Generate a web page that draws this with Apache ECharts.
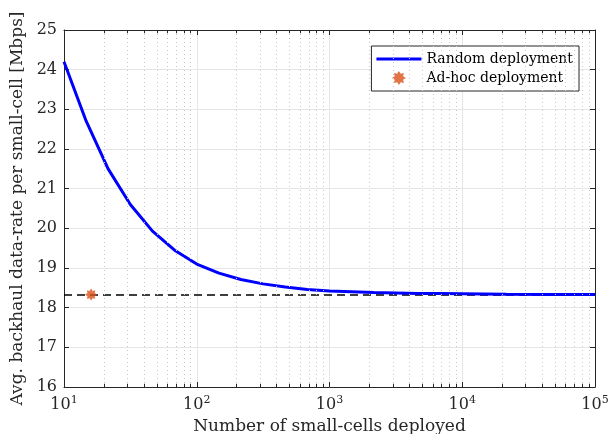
<!DOCTYPE html>
<html>
<head>
<meta charset="utf-8">
<script src="https://cdn.jsdelivr.net/npm/echarts@6/dist/echarts.min.js"></script>
<style>
  html, body { margin: 0; padding: 0; background: #fff; }
  #main { width: 613px; height: 434px; }
</style>
</head>
<body>
<div id="main"></div>
<script>
// data
var cellCounts = [10, 14.7, 21.5, 31.6, 46.4, 68.1, 100, 147, 215, 316, 464, 681, 1000,
                  1468, 2154, 3162, 4642, 6813, 10000, 21544, 46416, 100000];
var randomRate = [24.2, 22.7, 21.5, 20.6, 19.93, 19.45, 19.1, 18.87, 18.71, 18.6, 18.52, 18.46, 18.42,
                  18.4, 18.38, 18.37, 18.36, 18.355, 18.35, 18.34, 18.335, 18.33];
var adhocCells = [16];
var adhocRate = [18.33];
var refLevel = 18.32;
var minorTicks = [20, 30, 40, 50, 60, 70, 80, 90,
                  200, 300, 400, 500, 600, 700, 800, 900,
                  2000, 3000, 4000, 5000, 6000, 7000, 8000, 9000,
                  20000, 30000, 40000, 50000, 60000, 70000, 80000, 90000];
var yMin = 16, yMax = 25;

var FONT = 'DejaVu Serif';
var axisColor = '#262626';

var myChart = echarts.init(document.getElementById('main'));

var randomData = [];
for (var i = 0; i < cellCounts.length; i++) {
    randomData.push([cellCounts[i], randomRate[i]]);
}
var adhocData = [];
for (var i = 0; i < adhocCells.length; i++) {
    adhocData.push([adhocCells[i], adhocRate[i]]);
}

// minor grid + minor ticks on bottom/top
var minorLines = [];
for (var i = 0; i < minorTicks.length; i++) {
    var v = minorTicks[i];
    minorLines.push([{coord: [v, yMin], lineStyle: {color: '#c8c8c8', type: [1, 3], width: 1}},
                     {coord: [v, yMax]}]);
    minorLines.push([{coord: [v, yMin], lineStyle: {color: axisColor, type: 'solid', width: 1}},
                     {coord: [v, yMin + 0.08]}]);
    minorLines.push([{coord: [v, yMax], lineStyle: {color: axisColor, type: 'solid', width: 1}},
                     {coord: [v, yMax - 0.08]}]);
}

var starPath = 'path://M0,-10 L2.6,-6 L7.1,-7.1 L6,-2.6 L10,0 L6,2.6 L7.1,7.1 L2.6,6 L0,10 L-2.6,6 L-7.1,7.1 L-6,2.6 L-10,0 L-6,-2.6 L-7.1,-7.1 L-2.6,-6 Z';
// thin bar in the middle; zero-area strokes at top/bottom keep the box 45x14
var lineIcon = 'path://M0,0 L45,0 Z M0,5.5 L45,5.5 L45,8.5 L0,8.5 Z M0,14 L45,14 Z';

var logLabel = function (v) {
    var e = Math.round(Math.log10(v));
    return '{b|10}{s|' + e + '}';
};

option = {
    animation: false,
    backgroundColor: '#fff',
    grid: {left: 64, right: 18, top: 30, bottom: 47, outerBoundsMode: 'none', containLabel: false},
    legend: {
        data: [
            {name: 'Random deployment', icon: lineIcon},
            {name: 'Ad-hoc deployment', icon: starPath}
        ],
        orient: 'vertical',
        right: 34,
        top: 46,
        padding: [6, 6, 6, 5],
        itemGap: 5,
        itemWidth: 45,
        itemHeight: 14,
        backgroundColor: '#fff',
        borderColor: '#262626',
        borderWidth: 1,
        textStyle: {fontFamily: FONT, fontSize: 14, color: '#000'}
    },
    xAxis: [
        {
            type: 'log', min: 10, max: 100000, logBase: 10,
            name: 'Number of small-cells deployed',
            nameLocation: 'middle', nameGap: 30,
            nameTextStyle: {fontFamily: FONT, fontSize: 17, color: '#262626'},
            axisLine: {lineStyle: {color: axisColor}},
            axisTick: {inside: true, length: 5, lineStyle: {color: axisColor}},
            axisLabel: {
                margin: 8, formatter: logLabel,
                rich: {
                    b: {fontFamily: FONT, fontSize: 16, color: '#262626'},
                    s: {fontFamily: FONT, fontSize: 11, color: '#262626', padding: [0, 0, 9, 0]}
                }
            },
            splitLine: {show: true, lineStyle: {color: '#e6e6e6'}}
        },
        {
            type: 'log', min: 10, max: 100000, logBase: 10, position: 'top',
            axisLine: {lineStyle: {color: axisColor}},
            axisTick: {inside: true, length: 5, lineStyle: {color: axisColor}},
            axisLabel: {show: false},
            splitLine: {show: false}
        }
    ],
    yAxis: [
        {
            type: 'value', min: yMin, max: yMax, interval: 1,
            name: 'Avg. backhaul data-rate per small-cell [Mbps]',
            nameLocation: 'middle', nameGap: 32, nameRotate: 90,
            nameTextStyle: {fontFamily: FONT, fontSize: 17, color: '#262626'},
            axisLine: {show: true, lineStyle: {color: axisColor}},
            axisTick: {show: true, inside: true, length: 5, lineStyle: {color: axisColor}},
            axisLabel: {margin: 7, fontFamily: FONT, fontSize: 16, color: '#262626'},
            splitLine: {show: true, lineStyle: {color: '#e6e6e6'}}
        },
        {
            type: 'value', min: yMin, max: yMax, interval: 1, position: 'right',
            axisLine: {show: true, lineStyle: {color: axisColor}},
            axisTick: {show: true, inside: true, length: 5, lineStyle: {color: axisColor}},
            axisLabel: {show: false},
            splitLine: {show: false}
        }
    ],
    series: [
        {
            name: 'reference',
            type: 'line',
            data: [[10, refLevel], [100000, refLevel]],
            symbol: 'none',
            z: 3,
            lineStyle: {color: '#000', width: 1.5, type: [8, 5]},
            markLine: {
                silent: true,
                symbol: 'none',
                label: {show: false},
                animation: false,
                data: minorLines
            }
        },
        {
            name: 'Random deployment',
            type: 'line',
            data: randomData,
            symbol: 'none',
            z: 4,
            itemStyle: {color: '#0000ff'},
            lineStyle: {color: '#0000ff', width: 3}
        },
        {
            name: 'Ad-hoc deployment',
            type: 'scatter',
            data: adhocData,
            symbol: starPath,
            symbolSize: 12,
            z: 5,
            itemStyle: {color: '#D95319'}
        }
    ]
};

myChart.setOption(option);
</script>
</body>
</html>
